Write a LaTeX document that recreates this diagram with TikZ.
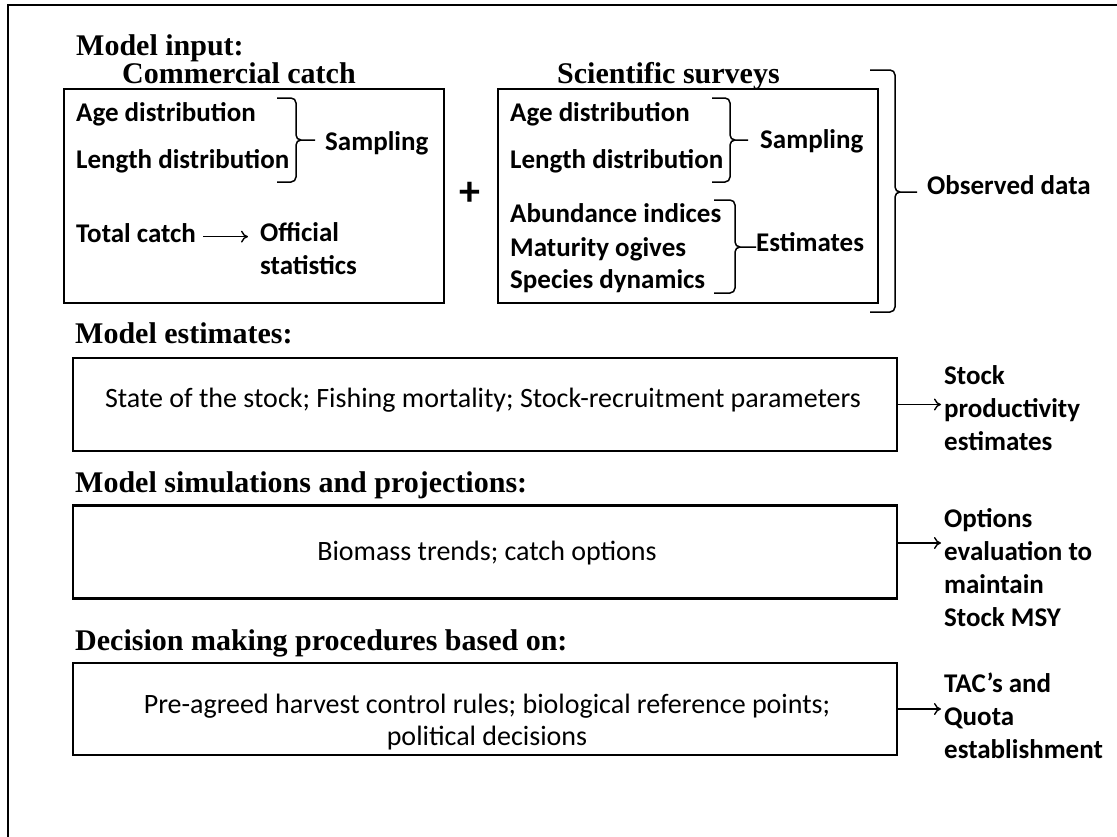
\documentclass[tikz,border=0pt]{standalone}
\usepackage{fontspec}
\setmainfont{Carlito}
\newfontfamily\headfont{Liberation Serif}
\usetikzlibrary{arrows.meta}
\newcommand\mybrace[6]{\draw[brc] (#1,#3) -- (#2,#3) -- (#2,#4) -- (#6,#4) (#1,#5) -- (#2,#5) -- (#2,#4) -- (#6,#4);}
\begin{document}
\begin{tikzpicture}[x=1pt,y=-1pt,
  frame/.style={draw, line width=2.6pt, inner sep=0pt},
  bt/.style={font=\bfseries\fontsize{27}{32}\selectfont, inner sep=0pt, anchor=base west},
  rt/.style={font=\fontsize{28}{32}\selectfont, inner sep=0pt, anchor=base},
  hd/.style={font=\headfont\bfseries\fontsize{30}{34}\selectfont, inner sep=0pt, anchor=base west},
  brc/.style={line width=1.5pt, rounded corners=5pt},
  arr/.style={-{To[length=7pt,width=12pt]}, line width=1.4pt}]
\useasboundingbox (0,0) rectangle (1117,836);
\fill[white] (0,0) rectangle (1117,836);
\draw[line width=2pt] (1125,5) -- (8,5) -- (8,845);

% headings
\node[hd] (mi) at (76,55) {Model input:};
\node[hd] (cct) at (122,83) {Commercial catch};
\node[hd] (sst) at (557,83) {Scientific surveys};
\node[hd] (met) at (75,343) {Model estimates:};
\node[hd] (mst) at (75,492) {Model simulations and projections:};
\node[hd] (dmt) at (75,650) {Decision making procedures based on:};

% input boxes
\node[frame, minimum width=380pt, minimum height=214pt] (cc) at (254,196) {};
\node[frame, minimum width=380pt, minimum height=214pt] (ss) at (688,196) {};
\node[font=\bfseries\fontsize{42}{42}\selectfont, inner sep=0pt] (plus) at (470,194) {+};

% commercial catch contents
\node[bt] (ad1) at (76,121) {Age distribution};
\node[bt] (ld1) at (76,168) {Length distribution};
\mybrace{277}{296}{98}{140}{182}{315}
\node[bt] (sa1) at (325,150) {Sampling};
\node[bt] (tc) at (76,242) {Total catch};
\node[bt] (of) at (260,241) {Official};
\node[bt] (st) at (260,274) {statistics};
\draw[arr] ([xshift=7pt,yshift=-4pt]tc.east) -- ([xshift=-12pt,yshift=-4pt]tc.east -| of.west);

% scientific surveys contents
\node[bt] (ad2) at (510,121) {Age distribution};
\node[bt] (ld2) at (510,168) {Length distribution};
\mybrace{712}{730}{98}{140}{182}{748}
\node[bt] (sa2) at (760,148) {Sampling};
\node[bt] (ab) at (510,222) {Abundance indices};
\node[bt] (mo) at (510,256) {Maturity ogives};
\node[bt] (sd) at (510,288) {Species dynamics};
\mybrace{714}{735}{200}{247}{293}{756}
\node[bt] (es) at (756,251) {Estimates};
\mybrace{870}{895}{70}{192}{312}{917}
\node[bt] (od) at (927,194) {Observed data};

% lower boxes
\node[frame, minimum width=824pt, minimum height=93pt] (me) at (485,404.5) {};
\node[rt] (met1) at (483,407) {State of the stock; Fishing mortality; Stock-recruitment parameters};
\node[frame, minimum width=824pt, minimum height=93pt] (ms) at (485,552) {};
\node[rt] (mst1) at (487,560) {Biomass trends; catch options};
\node[frame, minimum width=824pt, minimum height=92pt] (dm) at (485,709) {};
\node[rt] (dm1) at (487,713) {Pre-agreed harvest control rules; biological reference points;};
\node[rt] (dm2) at (487,745) {political decisions};

% right labels
\node[bt] (r1a) at (944,384) {Stock};
\node[bt] (r1b) at (944,417) {productivity};
\node[bt] (r1c) at (944,450) {estimates};
\draw[arr] (me.east) -- ([xshift=-3pt]me.east -| r1a.west);

\node[bt] (r2a) at (944,527) {Options};
\node[bt] (r2b) at (944,560) {evaluation to};
\node[bt] (r2c) at (944,593) {maintain};
\node[bt] (r2d) at (944,626) {Stock MSY};
\draw[arr] ([yshift=9pt]ms.east) -- ([xshift=-3pt,yshift=9pt]ms.east -| r2a.west);

\node[bt] (r3a) at (944,692) {TAC’s and};
\node[bt] (r3b) at (944,725) {Quota};
\node[bt] (r3c) at (944,758) {establishment};
\draw[arr] (dm.east) -- ([xshift=-3pt]dm.east -| r3a.west);
\end{tikzpicture}
\end{document}
